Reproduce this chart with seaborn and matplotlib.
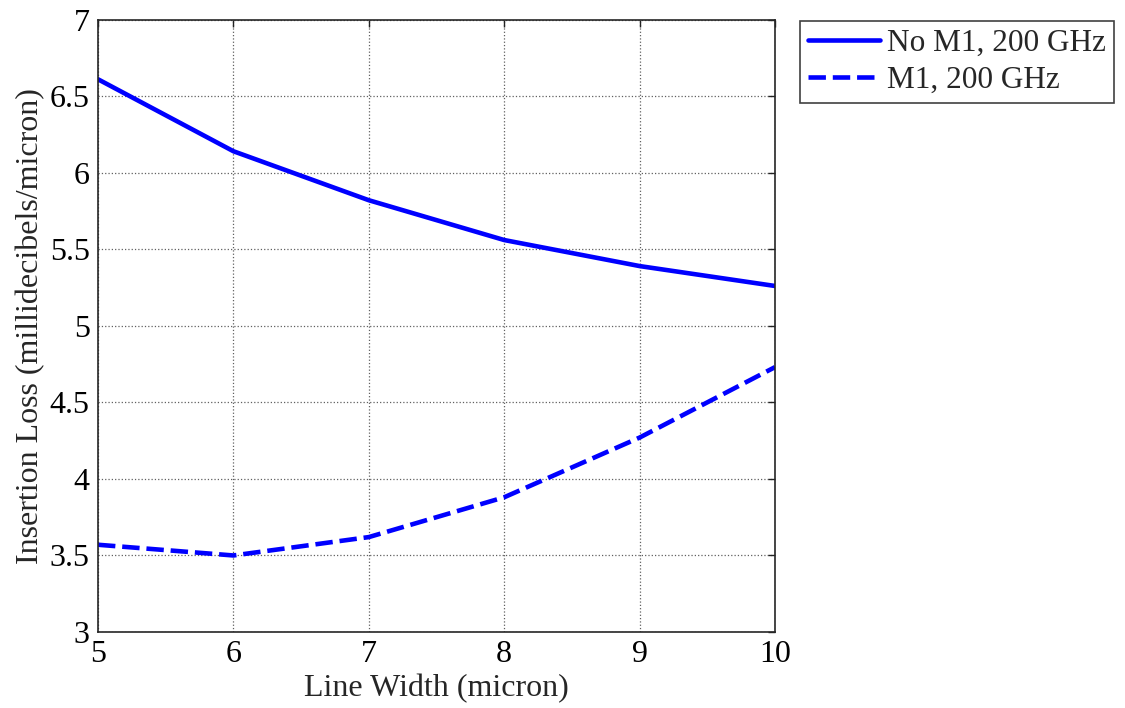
import matplotlib
matplotlib.use("Agg")
import matplotlib.pyplot as plt
import seaborn as sns
import pandas as pd

# Line width sweep (micron) and insertion loss (millidecibels/micron)
line_width = [5, 6, 7, 8, 9, 10]
loss_no_m1 = [6.61, 6.14, 5.82, 5.56, 5.39, 5.26]
loss_m1 = [3.57, 3.50, 3.62, 3.88, 4.27, 4.73]
series_names = ["No M1, 200 GHz", "M1, 200 GHz"]
x_ticks = [5, 6, 7, 8, 9, 10]
y_ticks = [3, 3.5, 4, 4.5, 5, 5.5, 6, 6.5, 7]

sns.set_theme(style="white")
plt.rcParams["font.family"] = ["Liberation Serif", "DejaVu Serif"]

df = pd.DataFrame({
    "width": line_width * 2,
    "loss": loss_no_m1 + loss_m1,
    "series": [series_names[0]] * len(line_width) + [series_names[1]] * len(line_width),
})

fig = plt.figure(figsize=(11.25, 7.08), dpi=100)
ax = fig.add_axes([0.0871, 0.1073, 0.6018, 0.8651])

sns.lineplot(
    data=df, x="width", y="loss", hue="series", style="series",
    palette={series_names[0]: "#0000ff", series_names[1]: "#0000ff"},
    dashes={series_names[0]: "", series_names[1]: (3.8, 1.5)},
    linewidth=3.3, ax=ax, legend=False,
)

ax.set_xlim(5, 10)
ax.set_ylim(3, 7)
ax.set_xticks(x_ticks)
ax.set_xticklabels([f"{v:g}" for v in x_ticks])
ax.set_yticks(y_ticks)
ax.set_yticklabels([f"{v:g}" for v in y_ticks])
ax.set_xlabel("Line Width (micron)", fontsize=23, labelpad=3)
ax.set_ylabel("Insertion Loss (millidecibels/micron)", fontsize=23, labelpad=3)

ax.grid(True, linestyle=":", color="#606060", linewidth=0.9)
ax.tick_params(direction="in", length=5, width=1, top=True, right=True,
               labelsize=23, colors="#222222", labelcolor="black", pad=6)
for s in ax.spines.values():
    s.set_visible(True)
    s.set_color("#262626")
    s.set_linewidth(1.2)

handles = ax.get_lines()[:2]
leg = fig.legend(handles, series_names, loc="upper left",
                 bbox_to_anchor=(0.711, 0.970), fontsize=22.5, frameon=True,
                 fancybox=False, edgecolor="#111111", handlelength=2.3,
                 borderpad=0.25, labelspacing=0.25, handletextpad=0.25,
                 borderaxespad=0)
leg.get_frame().set_linewidth(1.2)

fig.savefig("out.png", dpi=100, facecolor="white")
